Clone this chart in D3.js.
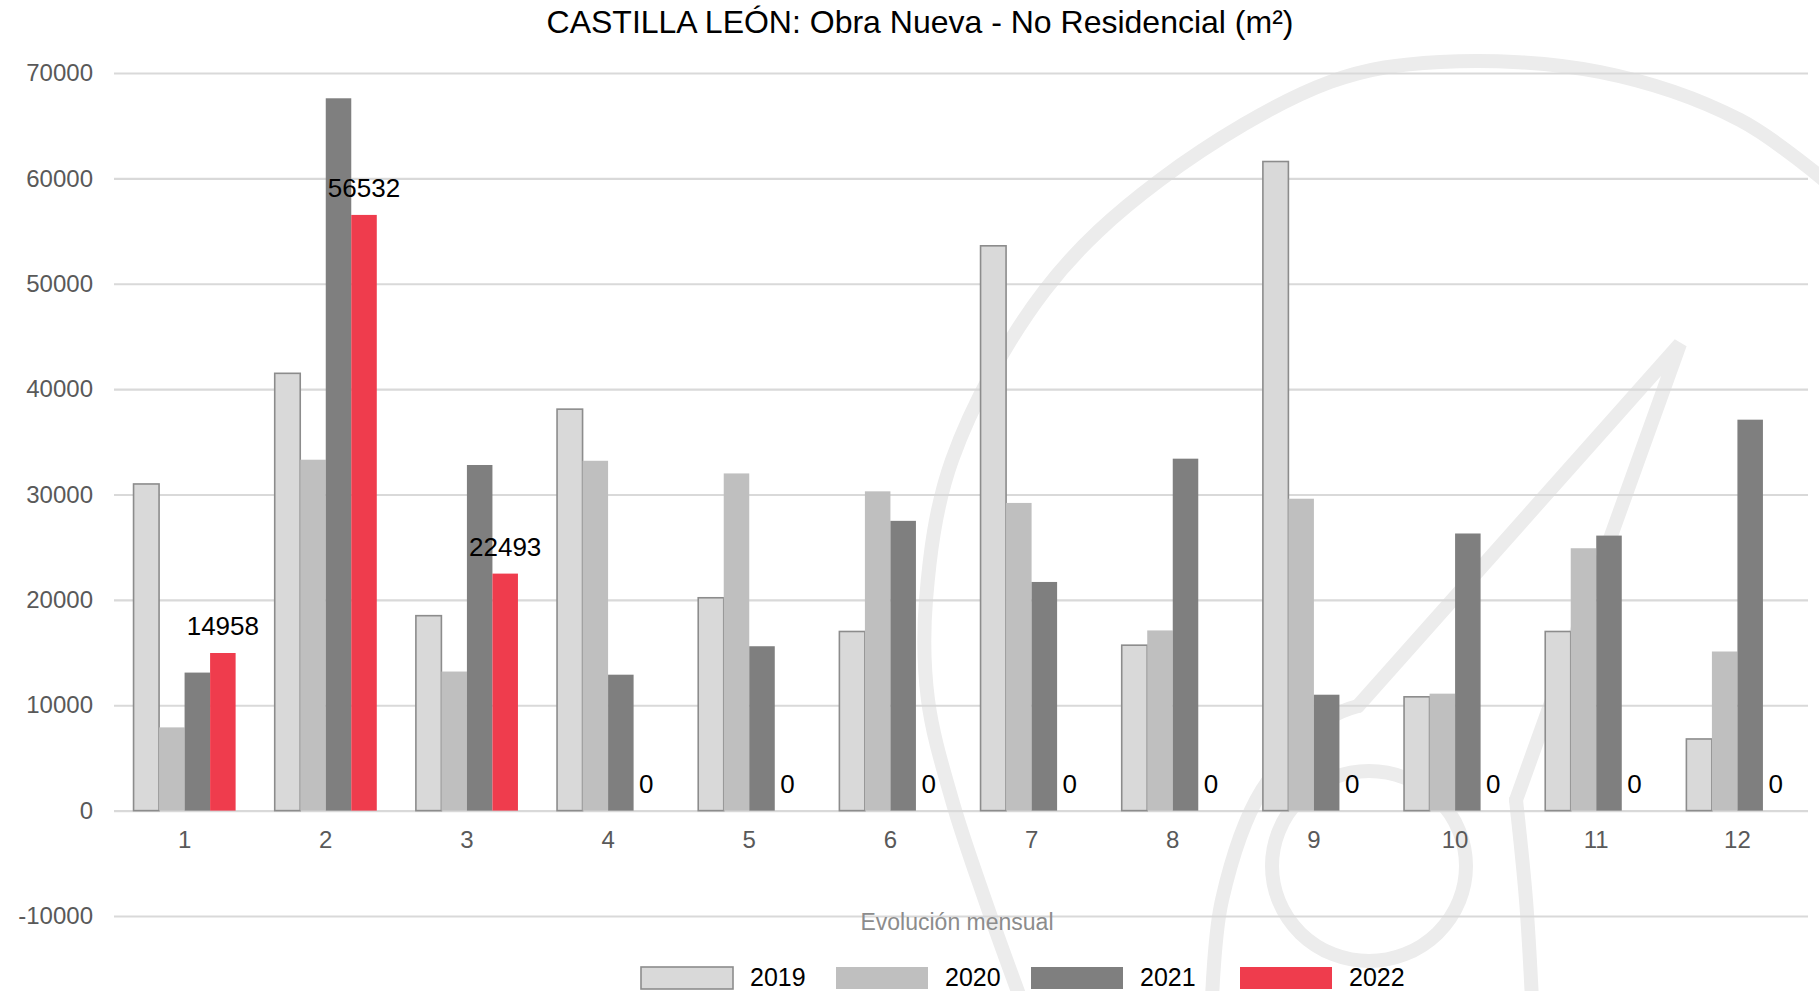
<!DOCTYPE html>
<html>
<head>
<meta charset="utf-8">
<script src="https://cdn.jsdelivr.net/npm/d3@7"></script>
<style>
  html, body { margin: 0; padding: 0; background: #fff; }
  svg { display: block; font-family: "Liberation Sans", Arial, sans-serif; }
</style>
</head>
<body>
<svg id="chart"></svg>
<script>
const months = ["1", "2", "3", "4", "5", "6", "7", "8", "9", "10", "11", "12"];
const years = ["2019", "2020", "2021", "2022"];
const v2019 = [31000, 41500, 18500, 38100, 20200, 17000, 53600, 15700, 61600, 10800, 17000, 6800];
const v2020 = [7900, 33300, 13200, 33200, 32000, 30300, 29200, 17100, 29600, 11100, 24900, 15100];
const v2021 = [13100, 67600, 32800, 12900, 15600, 27500, 21700, 33400, 11000, 26300, 26100, 37100];
const v2022 = [14958, 56532, 22493, 0, 0, 0, 0, 0, 0, 0, 0, 0];
const yTicks = [-10000, 0, 10000, 20000, 30000, 40000, 50000, 60000, 70000];

const width = 1819, height = 991;
const margin = { top: 73, right: 11, bottom: 75, left: 114 };

const colors = { "2019": "#d9d9d9", "2020": "#bfbfbf", "2021": "#7f7f7f", "2022": "#ef3c4d" };
const seriesValues = { "2019": v2019, "2020": v2020, "2021": v2021, "2022": v2022 };

const rows = months.map((m, i) => ({
  month: m,
  values: years.map(yr => ({ year: yr, value: seriesValues[yr][i] }))
}));

const svg = d3.select("#chart")
  .attr("width", width)
  .attr("height", height)
  .attr("viewBox", [0, 0, width, height]);

// faint logo watermark in the background
const wm = svg.append("g")
  .attr("fill", "none")
  .attr("stroke", "#ececec")
  .attr("stroke-width", 14)
  .attr("stroke-linecap", "round");
const curve = d3.line().curve(d3.curveCatmullRom.alpha(0.5));
wm.append("path").attr("d", curve([
  [1021, 1000], [985, 900], [952, 800], [928, 700], [926, 600], [952, 460],
  [1045, 290], [1160, 180], [1330, 82], [1440, 62], [1600, 72], [1740, 120], [1830, 185]
]));
wm.append("path").attr("d", curve([[1212, 1000], [1222, 900], [1262, 790], [1330, 718], [1358, 706]]));
wm.append("path").attr("d", "M1358,706L1680,344L1516,800");
wm.append("path").attr("d", curve([[1516, 800], [1526, 900], [1532, 1000]]));
wm.append("ellipse")
  .attr("cx", 1369).attr("cy", 866).attr("rx", 97).attr("ry", 95);

const x0 = d3.scaleBand()
  .domain(months)
  .range([margin.left, width - margin.right])
  .paddingInner(0.277)
  .paddingOuter(0.1385);

const x1 = d3.scaleBand()
  .domain(years)
  .range([0, x0.bandwidth()]);

const y = d3.scaleLinear()
  .domain([-10000, 70000])
  .range([height - margin.bottom, margin.top]);

// y axis with gridlines
svg.append("g")
  .attr("transform", `translate(${margin.left},0)`)
  .call(d3.axisLeft(y)
    .tickValues(yTicks)
    .tickFormat(d => String(d))
    .tickSize(-(width - margin.left - margin.right))
    .tickPadding(21))
  .call(g => g.select(".domain").remove())
  .call(g => g.selectAll(".tick line")
    .attr("stroke", "#d9d9d9")
    .attr("stroke-width", 2.2))
  .call(g => g.selectAll(".tick text")
    .attr("fill", "#595959")
    .attr("font-size", 24));

// bars
const group = svg.append("g")
  .selectAll("g")
  .data(rows)
  .join("g")
  .attr("transform", d => `translate(${x0(d.month)},0)`);

group.selectAll("rect")
  .data(d => d.values)
  .join("rect")
  .attr("x", d => x1(d.year))
  .attr("y", d => y(Math.max(0, d.value)))
  .attr("width", x1.bandwidth())
  .attr("height", d => Math.abs(y(0) - y(d.value)))
  .attr("fill", d => colors[d.year])
  .attr("stroke", d => d.year === "2019" ? "#8c8c8c" : "none")
  .attr("stroke-width", 1.6);

// value labels on the 2022 series
group.append("text")
  .datum(d => d.values.find(v => v.year === "2022"))
  .attr("x", d => x1(d.year) + x1.bandwidth() / 2)
  .attr("y", d => y(d.value) - 18)
  .attr("text-anchor", "middle")
  .attr("font-size", 26)
  .attr("fill", "#000")
  .text(d => d.value);

// x axis labels
svg.append("g")
  .attr("transform", `translate(0,${y(0)})`)
  .call(d3.axisBottom(x0).tickSize(0).tickPadding(20))
  .call(g => g.select(".domain").remove())
  .call(g => g.selectAll(".tick text")
    .attr("fill", "#595959")
    .attr("font-size", 24));

// title
svg.append("text")
  .attr("x", 920)
  .attr("y", 33)
  .attr("text-anchor", "middle")
  .attr("font-size", 32)
  .attr("fill", "#000")
  .text("CASTILLA LEÓN: Obra Nueva - No Residencial (m²)");

// axis title
svg.append("text")
  .attr("x", 957)
  .attr("y", 930)
  .attr("text-anchor", "middle")
  .attr("font-size", 23)
  .attr("fill", "#8c8c8c")
  .text("Evolución mensual");

// legend
const legendX = [641, 836, 1031, 1240];
const legend = svg.append("g")
  .selectAll("g")
  .data(years)
  .join("g")
  .attr("transform", (d, i) => `translate(${legendX[i]},967)`);

legend.append("rect")
  .attr("width", 92)
  .attr("height", 22)
  .attr("fill", d => colors[d])
  .attr("stroke", d => d === "2019" ? "#8c8c8c" : "none")
  .attr("stroke-width", 1.6);

legend.append("text")
  .attr("x", 109)
  .attr("y", 19)
  .attr("font-size", 25)
  .attr("fill", "#000")
  .text(d => d);
</script>
</body>
</html>
